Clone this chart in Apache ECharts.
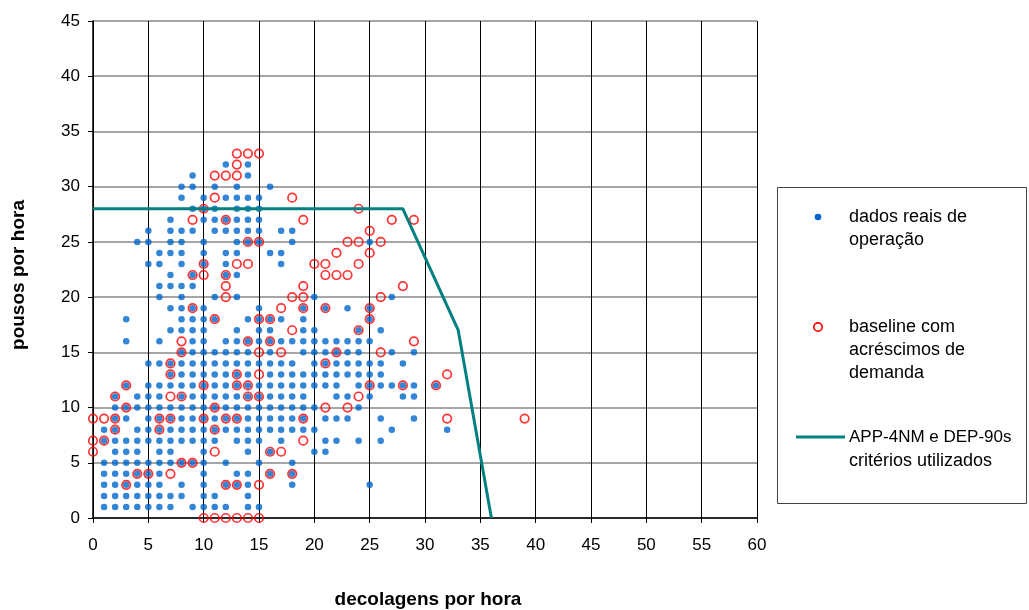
<!DOCTYPE html>
<html>
<head>
<meta charset="utf-8">
<script src="https://cdn.jsdelivr.net/npm/echarts@6/dist/echarts.min.js"></script>
<style>html,body{margin:0;padding:0;background:#fff;}#c{width:1029px;height:610px;}</style>
</head>
<body>
<div id="c"></div>
<script>
// x ticks / y ticks
const xTicks = [0, 60, 5];
const yTicks = [0, 45, 5];

// dados reais de operação: [pousos por hora, [decolagens por hora...]]
const realRows = [
  [32, [12, 14]],
  [31, [9, 14]],
  [30, [8, 9, 11, 13, 16]],
  [29, [8, 10, 12, 13, 14, 15]],
  [28, [9, 10, 11, 13, 14, 15]],
  [27, [7, 10, 11, 12, 13, 14, 15]],
  [26, [5, 7, 8, 9, 11, 12, 13, 14, 15, 17, 18]],
  [25, [4, 5, 7, 8, 10, 13, 14, 15, 18, 25]],
  [24, [6, 7, 8, 10, 12, 13, 16, 17]],
  [23, [5, 6, 8, 10, 12, 17]],
  [22, [7, 9, 12, 13]],
  [21, [6, 7, 8, 9]],
  [20, [6, 8, 11, 13, 20, 27]],
  [19, [7, 8, 9, 10, 15, 19, 21, 23, 25]],
  [18, [3, 8, 9, 10, 11, 14, 15, 16, 17, 19, 25]],
  [17, [7, 8, 9, 10, 13, 15, 16, 19, 20, 24, 26]],
  [16, [3, 6, 9, 10, 12, 13, 14, 15, 16, 17, 18, 19, 20, 21, 22, 23, 24, 25]],
  [15, [8, 9, 10, 11, 12, 13, 14, 16, 19, 20, 21, 22, 23, 24, 27, 29]],
  [14, [5, 6, 7, 8, 9, 10, 11, 12, 13, 14, 15, 16, 17, 18, 20, 21, 22, 23, 24, 25, 26, 28]],
  [13, [7, 8, 9, 10, 11, 12, 13, 14, 16, 17, 18, 19, 20, 21, 22, 23, 24, 25, 26]],
  [12, [3, 5, 6, 7, 8, 9, 10, 11, 12, 13, 14, 15, 16, 17, 18, 19, 20, 21, 22, 24, 25, 26, 27, 28, 29, 31]],
  [11, [2, 4, 5, 6, 8, 9, 10, 11, 12, 13, 14, 15, 16, 17, 18, 19, 22, 23, 25, 28, 29]],
  [10, [2, 3, 4, 5, 6, 7, 8, 9, 10, 11, 12, 13, 14, 15, 16, 17, 18, 19, 20, 24]],
  [9, [2, 3, 5, 6, 7, 8, 9, 10, 11, 12, 13, 14, 15, 16, 17, 18, 19, 21, 22, 23, 26, 29]],
  [8, [1, 2, 4, 5, 6, 7, 8, 9, 10, 11, 12, 13, 14, 15, 16, 17, 18, 19, 20, 27, 32]],
  [7, [1, 2, 3, 4, 5, 6, 7, 8, 9, 10, 11, 13, 14, 15, 17, 21, 22, 24, 26]],
  [6, [2, 3, 4, 6, 7, 10, 14, 16, 20, 21]],
  [5, [1, 2, 3, 4, 5, 6, 7, 8, 9, 10, 12, 15, 18]],
  [4, [1, 2, 3, 4, 5, 6, 10, 13, 14, 16, 18]],
  [3, [1, 2, 3, 4, 5, 6, 8, 10, 12, 13, 14, 18, 25]],
  [2, [1, 2, 3, 4, 5, 6, 7, 8, 10, 11, 14]],
  [1, [1, 2, 3, 4, 5, 6, 7, 9, 10, 11, 12, 14, 15]]
];

// baseline com acréscimos de demanda
const baselineRows = [
  [33, [13, 14, 15]],
  [32, [13]],
  [31, [11, 12, 13]],
  [29, [11, 18]],
  [28, [10, 24]],
  [27, [9, 12, 19, 27, 29]],
  [26, [25]],
  [25, [14, 15, 23, 24, 26]],
  [24, [22, 25]],
  [23, [10, 13, 14, 20, 21, 24]],
  [22, [9, 10, 12, 21, 22, 23]],
  [21, [12, 19, 28]],
  [20, [12, 18, 19, 26]],
  [19, [9, 17, 19, 21, 25]],
  [18, [11, 15, 16, 25]],
  [17, [18, 24]],
  [16, [8, 14, 16, 29]],
  [15, [8, 15, 17, 22, 26]],
  [14, [7, 21]],
  [13, [7, 13, 15, 32]],
  [12, [3, 10, 13, 14, 25, 28, 31]],
  [11, [2, 7, 8, 14, 15, 24]],
  [10, [3, 11, 21, 23]],
  [9, [0, 1, 2, 6, 7, 10, 12, 13, 19, 32, 39]],
  [8, [2, 6, 11]],
  [7, [0, 1, 19]],
  [6, [0, 11, 16, 17]],
  [5, [8, 9]],
  [4, [4, 5, 7, 16, 18]],
  [3, [3, 12, 13, 15]],
  [0, [10, 11, 12, 13, 14, 15]]
];

// APP-4NM e DEP-90s critérios utilizados
const criteriaX = [0, 28, 33, 36];
const criteriaY = [28, 28, 17, 0];

function flatten(rows) {
  const out = [];
  rows.forEach(([y, xs]) => xs.forEach(x => out.push([x, y])));
  return out;
}

const chart = echarts.init(document.getElementById('c'), null, {renderer: 'canvas'});
const FONT = 'Liberation Sans, Arial, sans-serif';
const LF = '18px ' + FONT;

chart.setOption({
  animation: false,
  backgroundColor: '#fff',
  grid: {left: 93, top: 21, width: 664, height: 497, containLabel: false},
  xAxis: {
    type: 'value', min: xTicks[0], max: xTicks[1], interval: xTicks[2],
    axisLine: {show: true, onZero: false, lineStyle: {color: '#000', width: 1.5}},
    axisTick: {show: true, inside: false, length: 5, lineStyle: {color: '#000'}},
    axisLabel: {color: '#000', fontSize: 17, fontFamily: FONT, margin: 19},
    splitLine: {show: true, lineStyle: {color: '#000', width: 1}}
  },
  yAxis: {
    type: 'value', min: yTicks[0], max: yTicks[1], interval: yTicks[2],
    axisLine: {show: true, onZero: false, lineStyle: {color: '#000', width: 1.5}},
    axisTick: {show: true, inside: false, length: 5, lineStyle: {color: '#000'}},
    axisLabel: {color: '#000', fontSize: 17, fontFamily: FONT, margin: 13},
    splitLine: {show: true, lineStyle: {color: '#888', width: 1.5}}
  },
  series: [
    {
      name: 'dados reais de operação', type: 'scatter',
      data: flatten(realRows), symbol: 'circle', symbolSize: 6.5,
      itemStyle: {color: '#0066CC'}, z: 3
    },
    {
      name: 'baseline com acréscimos de demanda', type: 'scatter',
      data: flatten(baselineRows), symbol: 'circle', symbolSize: 8.5,
      itemStyle: {color: 'rgba(0,0,0,0)', borderColor: '#FF0000', borderWidth: 1.7}, z: 4
    },
    {
      name: 'APP-4NM e DEP-90s critérios utilizados', type: 'line',
      data: criteriaX.map((x, i) => [x, criteriaY[i]]),
      symbol: 'none', lineStyle: {color: '#008080', width: 3}, z: 5
    }
  ],
  graphic: [
    {type: 'text', x: 428, y: 600, style: {text: 'decolagens por hora', font: 'bold 19px ' + FONT, fill: '#000', textAlign: 'center', textVerticalAlign: 'middle'}},
    {type: 'text', x: 19, y: 275, rotation: Math.PI / 2, style: {text: 'pousos por hora', font: 'bold 19px ' + FONT, fill: '#000', textAlign: 'center', textVerticalAlign: 'middle'}},
    {type: 'rect', shape: {x: 777.5, y: 187.5, width: 249, height: 316}, style: {fill: 'none', stroke: '#444', lineWidth: 1}},
    {type: 'circle', shape: {cx: 818, cy: 217, r: 3.3}, style: {fill: '#0066CC'}},
    {type: 'text', x: 849, y: 217, style: {text: 'dados reais de', font: LF, fill: '#000', textVerticalAlign: 'middle'}},
    {type: 'text', x: 849, y: 240, style: {text: 'operação', font: LF, fill: '#000', textVerticalAlign: 'middle'}},
    {type: 'circle', shape: {cx: 818, cy: 327, r: 4.2}, style: {fill: 'none', stroke: '#FF0000', lineWidth: 1.7}},
    {type: 'text', x: 849, y: 327, style: {text: 'baseline com', font: LF, fill: '#000', textVerticalAlign: 'middle'}},
    {type: 'text', x: 849, y: 350, style: {text: 'acréscimos de', font: LF, fill: '#000', textVerticalAlign: 'middle'}},
    {type: 'text', x: 849, y: 373, style: {text: 'demanda', font: LF, fill: '#000', textVerticalAlign: 'middle'}},
    {type: 'line', shape: {x1: 796, y1: 437, x2: 845, y2: 437}, style: {stroke: '#008080', lineWidth: 3}},
    {type: 'text', x: 849, y: 437, style: {text: 'APP-4NM e DEP-90s', font: '17px ' + FONT, fill: '#000', textVerticalAlign: 'middle'}},
    {type: 'text', x: 849, y: 461, style: {text: 'critérios utilizados', font: LF, fill: '#000', textVerticalAlign: 'middle'}}
  ]
});
</script>
</body>
</html>
